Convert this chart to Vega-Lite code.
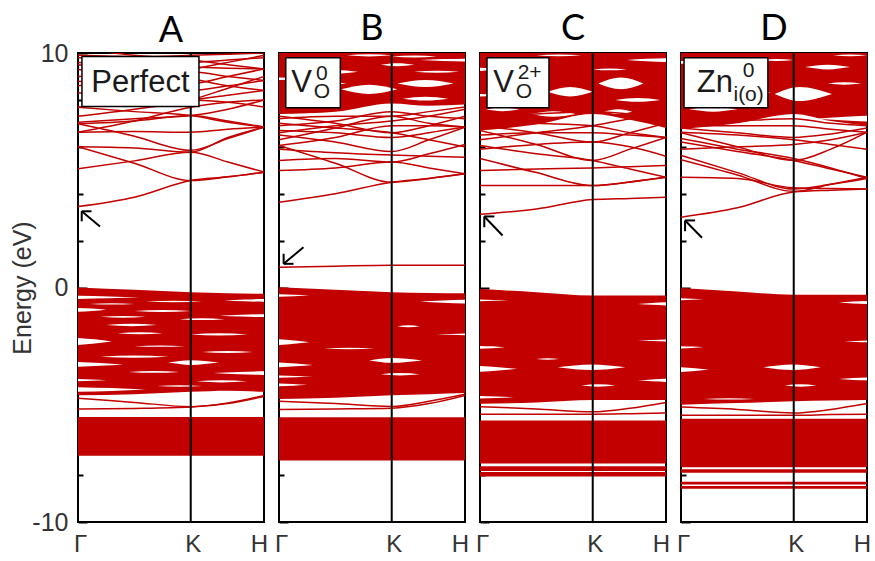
{
"$schema": "https://vega.github.io/schema/vega-lite/v6.json",
"background": "white",
"padding": {"left": 9, "top": 10, "right": 0, "bottom": 0},
"config": {
  "view": {"stroke": "black", "strokeWidth": 2},
  "concat": {"spacing": 4},
  "title": {"fontSize": 36, "font": "Lato", "fontWeight": "normal", "color": "black", "anchor": "middle", "frame": "group", "baseline": "alphabetic"},
  "axis": {"grid": false, "domain": false, "labelFont": "Liberation Sans", "titleFont": "Liberation Sans", "labelColor": "#333", "titleColor": "#333", "labelFontSize": 24, "titleFontSize": 25, "titleFontWeight": "normal", "tickColor": "black", "tickWidth": 2}
},
"datasets": {
"kx": [{"key":"g","x":0},{"key":"m","x":0.5},{"key":"k","x":1},{"key":"n","x":1.33},{"key":"h","x":1.65}],
"fills": [
{"p":"A","g":"Av","x":0,"lo":-4.6,"hi":0.0},{"p":"A","g":"Av","x":0.5,"lo":-4.55,"hi":-0.1},{"p":"A","g":"Av","x":1,"lo":-4.45,"hi":-0.2},{"p":"A","g":"Av","x":1.33,"lo":-4.4,"hi":-0.24},{"p":"A","g":"Av","x":1.65,"lo":-4.45,"hi":-0.27},
{"p":"A","g":"Al","x":0,"lo":-7.18,"hi":-5.52},{"p":"A","g":"Al","x":1.65,"lo":-7.18,"hi":-5.52},
{"p":"B","g":"Bc","x":0,"lo":7.4,"hi":10},{"p":"B","g":"Bc","x":0.5,"lo":7.5,"hi":10},{"p":"B","g":"Bc","x":1,"lo":7.85,"hi":10},{"p":"B","g":"Bc","x":1.33,"lo":7.75,"hi":10},{"p":"B","g":"Bc","x":1.65,"lo":7.8,"hi":10},
{"p":"B","g":"Bv","x":0,"lo":-4.75,"hi":0.01},{"p":"B","g":"Bv","x":0.5,"lo":-4.7,"hi":-0.1},{"p":"B","g":"Bv","x":1,"lo":-4.6,"hi":-0.2},{"p":"B","g":"Bv","x":1.33,"lo":-4.55,"hi":-0.23},{"p":"B","g":"Bv","x":1.65,"lo":-4.5,"hi":-0.25},
{"p":"B","g":"Bl","x":0,"lo":-7.38,"hi":-5.53},{"p":"B","g":"Bl","x":1.65,"lo":-7.38,"hi":-5.53},
{"p":"C","g":"Cc","x":0,"lo":6.7,"hi":10},{"p":"C","g":"Cc","x":0.5,"lo":6.95,"hi":10},{"p":"C","g":"Cc","x":1,"lo":7.4,"hi":10},{"p":"C","g":"Cc","x":1.33,"lo":7.15,"hi":10},{"p":"C","g":"Cc","x":1.65,"lo":6.8,"hi":10},
{"p":"C","g":"Cv","x":0,"lo":-4.96,"hi":-0.06},{"p":"C","g":"Cv","x":0.5,"lo":-4.9,"hi":-0.2},{"p":"C","g":"Cv","x":1,"lo":-4.8,"hi":-0.34},{"p":"C","g":"Cv","x":1.33,"lo":-4.8,"hi":-0.34},{"p":"C","g":"Cv","x":1.65,"lo":-4.8,"hi":-0.34},
{"p":"C","g":"Cl1","x":0,"lo":-7.5,"hi":-5.67},{"p":"C","g":"Cl1","x":1.65,"lo":-7.5,"hi":-5.67},
{"p":"C","g":"Cl2","x":0,"lo":-7.83,"hi":-7.62},{"p":"C","g":"Cl2","x":1.65,"lo":-7.83,"hi":-7.62},
{"p":"C","g":"Cl3","x":0,"lo":-8.06,"hi":-7.87},{"p":"C","g":"Cl3","x":1.65,"lo":-8.06,"hi":-7.87},
{"p":"D","g":"Dc","x":0,"lo":6.75,"hi":10},{"p":"D","g":"Dc","x":0.5,"lo":7.0,"hi":10},{"p":"D","g":"Dc","x":1,"lo":7.4,"hi":10},{"p":"D","g":"Dc","x":1.33,"lo":7.1,"hi":10},{"p":"D","g":"Dc","x":1.65,"lo":6.9,"hi":10},
{"p":"D","g":"Dv","x":0,"lo":-5.0,"hi":-0.02},{"p":"D","g":"Dv","x":0.5,"lo":-4.93,"hi":-0.17},{"p":"D","g":"Dv","x":1,"lo":-4.85,"hi":-0.31},{"p":"D","g":"Dv","x":1.33,"lo":-4.82,"hi":-0.31},{"p":"D","g":"Dv","x":1.65,"lo":-4.8,"hi":-0.31},
{"p":"D","g":"Dl1","x":0,"lo":-7.66,"hi":-5.6},{"p":"D","g":"Dl1","x":1.65,"lo":-7.66,"hi":-5.6},
{"p":"D","g":"Dl2","x":0,"lo":-7.9,"hi":-7.75},{"p":"D","g":"Dl2","x":1.65,"lo":-7.9,"hi":-7.75},
{"p":"D","g":"Dl3","x":0,"lo":-8.4,"hi":-8.28},{"p":"D","g":"Dl3","x":1.65,"lo":-8.4,"hi":-8.28},
{"p":"D","g":"Dl4","x":0,"lo":-8.58,"hi":-8.46},{"p":"D","g":"Dl4","x":1.65,"lo":-8.58,"hi":-8.46}
],
"gaps": [
{"p":"A","g":"a1","x":0,"lo":-0.49,"hi":-0.35},{"p":"A","g":"a1","x":0.275,"lo":-0.46,"hi":-0.38},{"p":"A","g":"a1","x":0.55,"lo":-0.42,"hi":-0.42},
{"p":"A","g":"a2","x":0,"lo":-1.03,"hi":-0.87},{"p":"A","g":"a2","x":0.125,"lo":-1.0,"hi":-0.9},{"p":"A","g":"a2","x":0.25,"lo":-0.95,"hi":-0.95},
{"p":"A","g":"a3","x":0,"lo":-2.45,"hi":-2.15},{"p":"A","g":"a3","x":0.15,"lo":-2.39,"hi":-2.21},{"p":"A","g":"a3","x":0.3,"lo":-2.3,"hi":-2.3},
{"p":"A","g":"a4","x":0,"lo":-3.38,"hi":-3.18},{"p":"A","g":"a4","x":0.2,"lo":-3.34,"hi":-3.22},{"p":"A","g":"a4","x":0.4,"lo":-3.28,"hi":-3.28},
{"p":"A","g":"a5","x":0,"lo":-4.0,"hi":-3.9},{"p":"A","g":"a5","x":0.125,"lo":-3.98,"hi":-3.92},{"p":"A","g":"a5","x":0.25,"lo":-3.95,"hi":-3.95},
{"p":"A","g":"a6","x":0,"lo":-4.45,"hi":-4.25},{"p":"A","g":"a6","x":0.3,"lo":-4.41,"hi":-4.29},{"p":"A","g":"a6","x":0.6,"lo":-4.35,"hi":-4.35},
{"p":"A","g":"a7","x":0.25,"lo":-1.6,"hi":-1.6},{"p":"A","g":"a7","x":0.475,"lo":-1.65,"hi":-1.55},{"p":"A","g":"a7","x":0.7,"lo":-1.6,"hi":-1.6},
{"p":"A","g":"a8","x":0.2,"lo":-2.95,"hi":-2.95},{"p":"A","g":"a8","x":0.5,"lo":-3.0,"hi":-2.9},{"p":"A","g":"a8","x":0.8,"lo":-2.95,"hi":-2.95},
{"p":"A","g":"a9","x":0.8,"lo":-3.2,"hi":-3.2},{"p":"A","g":"a9","x":1.0,"lo":-3.3,"hi":-3.1},{"p":"A","g":"a9","x":1.25,"lo":-3.2,"hi":-3.2},
{"p":"A","g":"a10","x":0.5,"lo":-1.0,"hi":-1.0},{"p":"A","g":"a10","x":0.75,"lo":-1.04,"hi":-0.96},{"p":"A","g":"a10","x":1.0,"lo":-1.0,"hi":-1.0},
{"p":"A","g":"a11","x":1.0,"lo":-2.0,"hi":-2.0},{"p":"A","g":"a11","x":1.25,"lo":-2.05,"hi":-1.95},{"p":"A","g":"a11","x":1.5,"lo":-2.0,"hi":-2.0},
{"p":"A","g":"a12","x":1.25,"lo":-1.2,"hi":-1.2},{"p":"A","g":"a12","x":1.45,"lo":-1.24,"hi":-1.16},{"p":"A","g":"a12","x":1.65,"lo":-1.26,"hi":-1.14},
{"p":"A","g":"a13","x":1.2,"lo":-3.65,"hi":-3.65},{"p":"A","g":"a13","x":1.425,"lo":-3.7,"hi":-3.6},{"p":"A","g":"a13","x":1.65,"lo":-3.73,"hi":-3.57},
{"p":"A","g":"a14","x":1.3,"lo":-0.55,"hi":-0.55},{"p":"A","g":"a14","x":1.475,"lo":-0.59,"hi":-0.51},{"p":"A","g":"a14","x":1.65,"lo":-0.61,"hi":-0.49},
{"p":"A","g":"a15","x":0.1,"lo":-0.7,"hi":-0.7},{"p":"A","g":"a15","x":0.3,"lo":-0.73,"hi":-0.67},{"p":"A","g":"a15","x":0.5,"lo":-0.7,"hi":-0.7},
{"p":"A","g":"a16","x":0.6,"lo":-0.6,"hi":-0.6},{"p":"A","g":"a16","x":0.85,"lo":-0.63,"hi":-0.57},{"p":"A","g":"a16","x":1.1,"lo":-0.6,"hi":-0.6},
{"p":"A","g":"a17","x":0.2,"lo":-1.25,"hi":-1.25},{"p":"A","g":"a17","x":0.4,"lo":-1.29,"hi":-1.21},{"p":"A","g":"a17","x":0.6,"lo":-1.25,"hi":-1.25},
{"p":"A","g":"a18","x":0.9,"lo":-1.35,"hi":-1.35},{"p":"A","g":"a18","x":1.1,"lo":-1.39,"hi":-1.31},{"p":"A","g":"a18","x":1.3,"lo":-1.35,"hi":-1.35},
{"p":"A","g":"a19","x":0.35,"lo":-1.95,"hi":-1.95},{"p":"A","g":"a19","x":0.55,"lo":-1.99,"hi":-1.91},{"p":"A","g":"a19","x":0.75,"lo":-1.95,"hi":-1.95},
{"p":"A","g":"a20","x":0.5,"lo":-2.5,"hi":-2.5},{"p":"A","g":"a20","x":0.725,"lo":-2.53,"hi":-2.47},{"p":"A","g":"a20","x":0.95,"lo":-2.5,"hi":-2.5},
{"p":"A","g":"a21","x":1.1,"lo":-2.75,"hi":-2.75},{"p":"A","g":"a21","x":1.325,"lo":-2.79,"hi":-2.71},{"p":"A","g":"a21","x":1.55,"lo":-2.75,"hi":-2.75},
{"p":"A","g":"a22","x":0.45,"lo":-3.6,"hi":-3.6},{"p":"A","g":"a22","x":0.675,"lo":-3.64,"hi":-3.56},{"p":"A","g":"a22","x":0.9,"lo":-3.6,"hi":-3.6},
{"p":"A","g":"a23","x":1.05,"lo":-4.0,"hi":-4.0},{"p":"A","g":"a23","x":1.275,"lo":-4.05,"hi":-3.95},{"p":"A","g":"a23","x":1.5,"lo":-4.0,"hi":-4.0},
{"p":"A","g":"a24","x":0.7,"lo":-4.2,"hi":-4.2},{"p":"A","g":"a24","x":0.9,"lo":-4.23,"hi":-4.17},{"p":"A","g":"a24","x":1.1,"lo":-4.2,"hi":-4.2},
{"p":"B","g":"b1","x":0.55,"lo":8.45,"hi":8.45},{"p":"B","g":"b1","x":0.8,"lo":8.25,"hi":8.65},{"p":"B","g":"b1","x":1.05,"lo":8.45,"hi":8.45},
{"p":"B","g":"b2","x":1.05,"lo":8.7,"hi":8.7},{"p":"B","g":"b2","x":1.3,"lo":8.55,"hi":8.85},{"p":"B","g":"b2","x":1.55,"lo":8.7,"hi":8.7},
{"p":"B","g":"b3","x":0.3,"lo":9.2,"hi":9.2},{"p":"B","g":"b3","x":0.5,"lo":9.12,"hi":9.28},{"p":"B","g":"b3","x":0.7,"lo":9.2,"hi":9.2},
{"p":"B","g":"b4","x":0.9,"lo":9.5,"hi":9.5},{"p":"B","g":"b4","x":1.05,"lo":9.44,"hi":9.56},{"p":"B","g":"b4","x":1.2,"lo":9.5,"hi":9.5},
{"p":"B","g":"b5","x":0.05,"lo":7.95,"hi":7.95},{"p":"B","g":"b5","x":0.25,"lo":7.87,"hi":8.03},{"p":"B","g":"b5","x":0.45,"lo":7.95,"hi":7.95},
{"p":"B","g":"b6","x":1.25,"lo":9.7,"hi":9.7},{"p":"B","g":"b6","x":1.45,"lo":9.66,"hi":9.74},{"p":"B","g":"b6","x":1.65,"lo":9.64,"hi":9.76},
{"p":"B","g":"b7","x":0.6,"lo":9.9,"hi":9.9},{"p":"B","g":"b7","x":0.8,"lo":9.85,"hi":9.95},{"p":"B","g":"b7","x":1.0,"lo":9.9,"hi":9.9},
{"p":"B","g":"b8","x":1.1,"lo":8.05,"hi":8.05},{"p":"B","g":"b8","x":1.3,"lo":7.97,"hi":8.13},{"p":"B","g":"b8","x":1.5,"lo":8.05,"hi":8.05},
{"p":"B","g":"b9","x":0,"lo":-0.39,"hi":-0.29},{"p":"B","g":"b9","x":0.135,"lo":-0.37,"hi":-0.31},{"p":"B","g":"b9","x":0.27,"lo":-0.34,"hi":-0.34},
{"p":"B","g":"b10","x":0,"lo":-2.45,"hi":-2.21},{"p":"B","g":"b10","x":0.135,"lo":-2.4,"hi":-2.26},{"p":"B","g":"b10","x":0.27,"lo":-2.33,"hi":-2.33},
{"p":"B","g":"b11","x":0,"lo":-3.4,"hi":-3.2},{"p":"B","g":"b11","x":0.15,"lo":-3.36,"hi":-3.24},{"p":"B","g":"b11","x":0.3,"lo":-3.3,"hi":-3.3},
{"p":"B","g":"b12","x":0,"lo":-3.85,"hi":-3.75},{"p":"B","g":"b12","x":0.15,"lo":-3.83,"hi":-3.77},{"p":"B","g":"b12","x":0.3,"lo":-3.8,"hi":-3.8},
{"p":"B","g":"b13","x":0,"lo":-4.21,"hi":-4.09},{"p":"B","g":"b13","x":0.125,"lo":-4.19,"hi":-4.11},{"p":"B","g":"b13","x":0.25,"lo":-4.15,"hi":-4.15},
{"p":"B","g":"b14","x":0.8,"lo":-3.11,"hi":-3.11},{"p":"B","g":"b14","x":1.0,"lo":-3.21,"hi":-3.01},{"p":"B","g":"b14","x":1.27,"lo":-3.11,"hi":-3.11},
{"p":"B","g":"b15","x":0.4,"lo":-2.6,"hi":-2.6},{"p":"B","g":"b15","x":0.625,"lo":-2.63,"hi":-2.57},{"p":"B","g":"b15","x":0.85,"lo":-2.6,"hi":-2.6},
{"p":"B","g":"b16","x":0.9,"lo":-3.7,"hi":-3.7},{"p":"B","g":"b16","x":1.075,"lo":-3.75,"hi":-3.65},{"p":"B","g":"b16","x":1.25,"lo":-3.7,"hi":-3.7},
{"p":"B","g":"b17","x":1.05,"lo":-1.65,"hi":-1.65},{"p":"B","g":"b17","x":1.15,"lo":-1.69,"hi":-1.61},{"p":"B","g":"b17","x":1.25,"lo":-1.65,"hi":-1.65},
{"p":"B","g":"b18","x":1.25,"lo":-0.6,"hi":-0.6},{"p":"B","g":"b18","x":1.45,"lo":-0.65,"hi":-0.55},{"p":"B","g":"b18","x":1.65,"lo":-0.68,"hi":-0.52},
{"p":"B","g":"b19","x":1.4,"lo":-2.0,"hi":-2.0},{"p":"B","g":"b19","x":1.525,"lo":-2.02,"hi":-1.98},{"p":"B","g":"b19","x":1.65,"lo":-2.04,"hi":-1.96},
{"p":"B","g":"b20","x":0.1,"lo":9.5,"hi":9.5},{"p":"B","g":"b20","x":0.3,"lo":9.46,"hi":9.54},{"p":"B","g":"b20","x":0.5,"lo":9.5,"hi":9.5},
{"p":"B","g":"b21","x":1.2,"lo":9.2,"hi":9.2},{"p":"B","g":"b21","x":1.4,"lo":9.16,"hi":9.24},{"p":"B","g":"b21","x":1.6,"lo":9.2,"hi":9.2},
{"p":"B","g":"b22","x":0.3,"lo":8.7,"hi":8.7},{"p":"B","g":"b22","x":0.45,"lo":8.65,"hi":8.75},{"p":"B","g":"b22","x":0.6,"lo":8.7,"hi":8.7},
{"p":"B","g":"b23","x":0,"lo":8.85,"hi":8.95},{"p":"B","g":"b23","x":0.15,"lo":8.87,"hi":8.93},{"p":"B","g":"b23","x":0.3,"lo":8.9,"hi":8.9},
{"p":"B","g":"b24","x":1.0,"lo":9.85,"hi":9.85},{"p":"B","g":"b24","x":1.2,"lo":9.81,"hi":9.89},{"p":"B","g":"b24","x":1.4,"lo":9.85,"hi":9.85},
{"p":"C","g":"c1","x":1.05,"lo":8.7,"hi":8.7},{"p":"C","g":"c1","x":1.25,"lo":8.45,"hi":8.95},{"p":"C","g":"c1","x":1.45,"lo":8.7,"hi":8.7},
{"p":"C","g":"c2","x":0.6,"lo":8.35,"hi":8.35},{"p":"C","g":"c2","x":0.8,"lo":8.15,"hi":8.55},{"p":"C","g":"c2","x":1.0,"lo":8.35,"hi":8.35},
{"p":"C","g":"c3","x":0.45,"lo":7.4,"hi":7.4},{"p":"C","g":"c3","x":0.65,"lo":7.28,"hi":7.52},{"p":"C","g":"c3","x":0.85,"lo":7.4,"hi":7.4},
{"p":"C","g":"c4","x":1.1,"lo":7.5,"hi":7.5},{"p":"C","g":"c4","x":1.225,"lo":7.4,"hi":7.6},{"p":"C","g":"c4","x":1.35,"lo":7.5,"hi":7.5},
{"p":"C","g":"c5","x":0,"lo":9.23,"hi":9.37},{"p":"C","g":"c5","x":0.1,"lo":9.26,"hi":9.34},{"p":"C","g":"c5","x":0.2,"lo":9.3,"hi":9.3},
{"p":"C","g":"c6","x":1.3,"lo":9.7,"hi":9.7},{"p":"C","g":"c6","x":1.475,"lo":9.65,"hi":9.75},{"p":"C","g":"c6","x":1.65,"lo":9.62,"hi":9.78},
{"p":"C","g":"c7","x":1.2,"lo":8.0,"hi":8.0},{"p":"C","g":"c7","x":1.4,"lo":7.92,"hi":8.08},{"p":"C","g":"c7","x":1.6,"lo":8.0,"hi":8.0},
{"p":"C","g":"c8","x":0.05,"lo":7.6,"hi":7.6},{"p":"C","g":"c8","x":0.2,"lo":7.52,"hi":7.68},{"p":"C","g":"c8","x":0.35,"lo":7.6,"hi":7.6},
{"p":"C","g":"c9","x":0.2,"lo":9.6,"hi":9.6},{"p":"C","g":"c9","x":0.375,"lo":9.54,"hi":9.66},{"p":"C","g":"c9","x":0.55,"lo":9.6,"hi":9.6},
{"p":"C","g":"c10","x":0,"lo":-0.59,"hi":-0.51},{"p":"C","g":"c10","x":0.125,"lo":-0.57,"hi":-0.53},{"p":"C","g":"c10","x":0.25,"lo":-0.55,"hi":-0.55},
{"p":"C","g":"c11","x":0,"lo":-2.61,"hi":-2.49},{"p":"C","g":"c11","x":0.11,"lo":-2.59,"hi":-2.51},{"p":"C","g":"c11","x":0.22,"lo":-2.55,"hi":-2.55},
{"p":"C","g":"c12","x":0,"lo":-3.59,"hi":-3.35},{"p":"C","g":"c12","x":0.165,"lo":-3.54,"hi":-3.4},{"p":"C","g":"c12","x":0.33,"lo":-3.47,"hi":-3.47},
{"p":"C","g":"c13","x":0,"lo":-4.73,"hi":-4.63},{"p":"C","g":"c13","x":0.15,"lo":-4.71,"hi":-4.65},{"p":"C","g":"c13","x":0.3,"lo":-4.68,"hi":-4.68},
{"p":"C","g":"c14","x":0.69,"lo":-3.4,"hi":-3.4},{"p":"C","g":"c14","x":0.99,"lo":-3.52,"hi":-3.28},{"p":"C","g":"c14","x":1.29,"lo":-3.4,"hi":-3.4},
{"p":"C","g":"c15","x":0.9,"lo":-4.18,"hi":-4.18},{"p":"C","g":"c15","x":1.05,"lo":-4.23,"hi":-4.13},{"p":"C","g":"c15","x":1.2,"lo":-4.18,"hi":-4.18},
{"p":"C","g":"c16","x":0.5,"lo":-3.05,"hi":-3.05},{"p":"C","g":"c16","x":0.6,"lo":-3.08,"hi":-3.02},{"p":"C","g":"c16","x":0.7,"lo":-3.05,"hi":-3.05},
{"p":"C","g":"c17","x":1.4,"lo":-0.7,"hi":-0.7},{"p":"C","g":"c17","x":1.525,"lo":-0.74,"hi":-0.66},{"p":"C","g":"c17","x":1.65,"lo":-0.77,"hi":-0.63},
{"p":"C","g":"c18","x":1.4,"lo":-2.26,"hi":-2.26},{"p":"C","g":"c18","x":1.525,"lo":-2.28,"hi":-2.24},{"p":"C","g":"c18","x":1.65,"lo":-2.3,"hi":-2.22},
{"p":"C","g":"c19","x":1.4,"lo":-3.96,"hi":-3.96},{"p":"C","g":"c19","x":1.525,"lo":-4.0,"hi":-3.92},{"p":"C","g":"c19","x":1.65,"lo":-4.03,"hi":-3.89},
{"p":"C","g":"c20","x":0.1,"lo":8.6,"hi":8.6},{"p":"C","g":"c20","x":0.25,"lo":8.55,"hi":8.65},{"p":"C","g":"c20","x":0.4,"lo":8.6,"hi":8.6},
{"p":"C","g":"c21","x":0.5,"lo":9.9,"hi":9.9},{"p":"C","g":"c21","x":0.7,"lo":9.86,"hi":9.94},{"p":"C","g":"c21","x":0.9,"lo":9.9,"hi":9.9},
{"p":"C","g":"c22","x":1.0,"lo":9.3,"hi":9.3},{"p":"C","g":"c22","x":1.15,"lo":9.26,"hi":9.34},{"p":"C","g":"c22","x":1.3,"lo":9.3,"hi":9.3},
{"p":"C","g":"c23","x":0,"lo":8.15,"hi":8.25},{"p":"C","g":"c23","x":0.125,"lo":8.17,"hi":8.23},{"p":"C","g":"c23","x":0.25,"lo":8.2,"hi":8.2},
{"p":"D","g":"d1","x":0.83,"lo":8.25,"hi":8.25},{"p":"D","g":"d1","x":1.05,"lo":7.95,"hi":8.55},{"p":"D","g":"d1","x":1.34,"lo":8.25,"hi":8.25},
{"p":"D","g":"d2","x":0.07,"lo":7.6,"hi":7.6},{"p":"D","g":"d2","x":0.285,"lo":7.5,"hi":7.7},{"p":"D","g":"d2","x":0.5,"lo":7.6,"hi":7.6},
{"p":"D","g":"d3","x":1.1,"lo":9.4,"hi":9.4},{"p":"D","g":"d3","x":1.3,"lo":9.3,"hi":9.5},{"p":"D","g":"d3","x":1.5,"lo":9.4,"hi":9.4},
{"p":"D","g":"d4","x":1.2,"lo":7.2,"hi":7.2},{"p":"D","g":"d4","x":1.425,"lo":7.13,"hi":7.27},{"p":"D","g":"d4","x":1.65,"lo":7.08,"hi":7.32},
{"p":"D","g":"d5","x":0.3,"lo":9.0,"hi":9.0},{"p":"D","g":"d5","x":0.45,"lo":8.93,"hi":9.07},{"p":"D","g":"d5","x":0.6,"lo":9.0,"hi":9.0},
{"p":"D","g":"d6","x":0,"lo":9.54,"hi":9.66},{"p":"D","g":"d6","x":0.1,"lo":9.56,"hi":9.64},{"p":"D","g":"d6","x":0.2,"lo":9.6,"hi":9.6},
{"p":"D","g":"d7","x":0,"lo":-2.6,"hi":-2.5},{"p":"D","g":"d7","x":0.1,"lo":-2.58,"hi":-2.52},{"p":"D","g":"d7","x":0.2,"lo":-2.55,"hi":-2.55},
{"p":"D","g":"d8","x":0,"lo":-3.6,"hi":-3.4},{"p":"D","g":"d8","x":0.125,"lo":-3.56,"hi":-3.44},{"p":"D","g":"d8","x":0.25,"lo":-3.5,"hi":-3.5},
{"p":"D","g":"d9","x":0,"lo":-0.54,"hi":-0.46},{"p":"D","g":"d9","x":0.1,"lo":-0.52,"hi":-0.48},{"p":"D","g":"d9","x":0.2,"lo":-0.5,"hi":-0.5},
{"p":"D","g":"d10","x":0.73,"lo":-3.4,"hi":-3.4},{"p":"D","g":"d10","x":0.99,"lo":-3.52,"hi":-3.28},{"p":"D","g":"d10","x":1.24,"lo":-3.4,"hi":-3.4},
{"p":"D","g":"d11","x":0.92,"lo":-4.18,"hi":-4.18},{"p":"D","g":"d11","x":1.06,"lo":-4.23,"hi":-4.13},{"p":"D","g":"d11","x":1.2,"lo":-4.18,"hi":-4.18},
{"p":"D","g":"d12","x":0.2,"lo":-4.75,"hi":-4.75},{"p":"D","g":"d12","x":0.425,"lo":-4.78,"hi":-4.72},{"p":"D","g":"d12","x":0.65,"lo":-4.75,"hi":-4.75},
{"p":"D","g":"d13","x":1.4,"lo":-0.64,"hi":-0.64},{"p":"D","g":"d13","x":1.525,"lo":-0.68,"hi":-0.6},{"p":"D","g":"d13","x":1.65,"lo":-0.7,"hi":-0.58},
{"p":"D","g":"d14","x":1.4,"lo":-3.9,"hi":-3.9},{"p":"D","g":"d14","x":1.525,"lo":-3.94,"hi":-3.86},{"p":"D","g":"d14","x":1.65,"lo":-3.96,"hi":-3.84},
{"p":"D","g":"d15","x":1.45,"lo":-2.3,"hi":-2.3},{"p":"D","g":"d15","x":1.55,"lo":-2.32,"hi":-2.28},{"p":"D","g":"d15","x":1.65,"lo":-2.34,"hi":-2.26},
{"p":"D","g":"d16","x":0.1,"lo":8.6,"hi":8.6},{"p":"D","g":"d16","x":0.275,"lo":8.55,"hi":8.65},{"p":"D","g":"d16","x":0.45,"lo":8.6,"hi":8.6},
{"p":"D","g":"d17","x":0.5,"lo":8.3,"hi":8.3},{"p":"D","g":"d17","x":0.65,"lo":8.24,"hi":8.36},{"p":"D","g":"d17","x":0.8,"lo":8.3,"hi":8.3},
{"p":"D","g":"d18","x":1.3,"lo":8.7,"hi":8.7},{"p":"D","g":"d18","x":1.45,"lo":8.65,"hi":8.75},{"p":"D","g":"d18","x":1.6,"lo":8.7,"hi":8.7},
{"p":"D","g":"d19","x":0.7,"lo":9.7,"hi":9.7},{"p":"D","g":"d19","x":0.85,"lo":9.66,"hi":9.74},{"p":"D","g":"d19","x":1.0,"lo":9.7,"hi":9.7},
{"p":"D","g":"d20","x":1.35,"lo":9.9,"hi":9.9},{"p":"D","g":"d20","x":1.5,"lo":9.86,"hi":9.94},{"p":"D","g":"d20","x":1.65,"lo":9.9,"hi":9.9}
],
"bands": [
{"p":"A","b":1,"g":3.45,"m":3.85,"k":4.56,"n":4.72,"h":4.92},
{"p":"A","b":2,"g":6.0,"m":5.3,"k":4.56,"n":4.72,"h":4.92},
{"p":"A","b":3,"g":5.06,"m":5.4,"k":5.77,"n":5.35,"h":4.92},
{"p":"A","b":4,"g":6.0,"m":5.95,"k":5.77,"n":6.4,"h":6.84},
{"p":"A","b":5,"g":6.98,"m":6.45,"k":5.85,"n":6.35,"h":6.84},
{"p":"A","b":6,"g":6.62,"m":6.65,"k":6.62,"n":6.75,"h":6.84},
{"p":"A","b":7,"g":6.98,"m":7.1,"k":7.33,"n":7.1,"h":6.84},
{"p":"A","b":8,"g":7.05,"m":7.2,"k":7.33,"n":7.6,"h":8.0},
{"p":"A","b":9,"g":6.62,"m":7.1,"k":7.69,"n":7.9,"h":8.0},
{"p":"A","b":10,"g":7.69,"m":7.5,"k":7.33,"n":7.05,"h":6.84},
{"p":"A","b":11,"g":7.7,"m":7.9,"k":8.0,"n":8.2,"h":8.4},
{"p":"A","b":12,"g":8.3,"m":8.1,"k":8.0,"n":7.9,"h":7.7},
{"p":"A","b":13,"g":8.8,"m":8.6,"k":8.4,"n":8.6,"h":8.83},
{"p":"A","b":14,"g":9.0,"m":9.1,"k":9.2,"n":9.0,"h":8.83},
{"p":"A","b":15,"g":9.3,"m":9.0,"k":8.7,"n":9.0,"h":9.32},
{"p":"A","b":16,"g":9.6,"m":9.5,"k":9.4,"n":9.35,"h":9.32},
{"p":"A","b":17,"g":9.8,"m":9.7,"k":9.6,"n":9.7,"h":9.8},
{"p":"A","b":18,"g":9.9,"m":9.85,"k":9.9,"n":9.95,"h":10.0},
{"p":"A","b":19,"g":8.6,"m":8.9,"k":9.3,"n":9.6,"h":9.9},
{"p":"A","b":20,"g":9.5,"m":9.2,"k":8.9,"n":8.6,"h":8.4},
{"p":"A","b":21,"g":10.2,"m":9.9,"k":9.7,"n":9.5,"h":9.32},
{"p":"A","b":22,"g":7.3,"m":7.6,"k":8.0,"n":8.5,"h":9.0},
{"p":"A","b":23,"g":-4.72,"m":-4.9,"k":-5.08,"n":-4.92,"h":-4.6},
{"p":"A","b":24,"g":-5.18,"m":-5.16,"k":-5.1,"n":-4.95,"h":-4.65},
{"p":"B","b":1,"g":0.86,"m":0.91,"k":0.95,"n":0.95,"h":0.95},
{"p":"B","b":2,"g":3.64,"m":4.0,"k":4.49,"n":4.65,"h":4.85},
{"p":"B","b":3,"g":6.06,"m":5.3,"k":4.49,"n":4.65,"h":4.85},
{"p":"B","b":4,"g":4.99,"m":5.1,"k":5.35,"n":5.1,"h":4.85},
{"p":"B","b":5,"g":5.42,"m":5.5,"k":5.35,"n":5.7,"h":6.1},
{"p":"B","b":6,"g":5.9,"m":5.75,"k":5.65,"n":5.6,"h":5.55},
{"p":"B","b":7,"g":6.5,"m":6.2,"k":5.8,"n":6.3,"h":6.84},
{"p":"B","b":8,"g":6.7,"m":6.6,"k":6.4,"n":6.6,"h":6.84},
{"p":"B","b":9,"g":6.06,"m":6.4,"k":6.9,"n":6.9,"h":6.84},
{"p":"B","b":10,"g":6.3,"m":6.8,"k":7.3,"n":7.0,"h":6.84},
{"p":"B","b":11,"g":7.0,"m":6.8,"k":6.6,"n":6.3,"h":6.0},
{"p":"B","b":12,"g":7.2,"m":7.3,"k":7.3,"n":7.5,"h":7.7},
{"p":"B","b":13,"g":6.9,"m":7.1,"k":7.5,"n":7.3,"h":7.2},
{"p":"B","b":14,"g":7.3,"m":7.0,"k":6.6,"n":6.9,"h":7.3},
{"p":"B","b":15,"g":6.6,"m":6.9,"k":7.1,"n":7.3,"h":7.6},
{"p":"B","b":16,"g":-4.85,"m":-4.95,"k":-5.07,"n":-4.85,"h":-4.55},
{"p":"B","b":17,"g":-5.2,"m":-5.18,"k":-5.15,"n":-4.95,"h":-4.6},
{"p":"C","b":1,"g":3.12,"m":3.35,"k":3.75,"n":3.8,"h":3.85},
{"p":"C","b":2,"g":4.35,"m":4.35,"k":4.35,"n":4.5,"h":4.7},
{"p":"C","b":3,"g":5.5,"m":4.9,"k":4.35,"n":4.5,"h":4.7},
{"p":"C","b":4,"g":4.99,"m":5.05,"k":5.1,"n":5.15,"h":5.2},
{"p":"C","b":5,"g":6.06,"m":5.7,"k":5.42,"n":5.05,"h":4.7},
{"p":"C","b":6,"g":6.7,"m":6.1,"k":5.42,"n":5.9,"h":6.4},
{"p":"C","b":7,"g":5.9,"m":6.1,"k":6.2,"n":6.0,"h":5.6},
{"p":"C","b":8,"g":6.5,"m":6.6,"k":6.6,"n":6.5,"h":6.4},
{"p":"C","b":9,"g":6.9,"m":6.6,"k":6.2,"n":6.6,"h":7.0},
{"p":"C","b":10,"g":6.3,"m":6.6,"k":6.9,"n":7.2,"h":7.5},
{"p":"C","b":11,"g":7.1,"m":7.0,"k":6.9,"n":6.6,"h":6.4},
{"p":"C","b":12,"g":7.3,"m":7.4,"k":7.5,"n":7.4,"h":7.2},
{"p":"C","b":13,"g":-5.08,"m":-5.18,"k":-5.3,"n":-5.15,"h":-4.9},
{"p":"C","b":14,"g":-5.4,"m":-5.4,"k":-5.4,"n":-5.38,"h":-5.35},
{"p":"D","b":1,"g":3.0,"m":3.4,"k":4.07,"n":4.15,"h":4.2},
{"p":"D","b":2,"g":4.7,"m":4.65,"k":4.25,"n":4.22,"h":4.2},
{"p":"D","b":3,"g":5.63,"m":4.9,"k":4.2,"n":4.4,"h":4.65},
{"p":"D","b":4,"g":5.45,"m":4.8,"k":4.1,"n":4.4,"h":4.7},
{"p":"D","b":5,"g":6.2,"m":5.8,"k":5.42,"n":5.05,"h":4.7},
{"p":"D","b":6,"g":6.35,"m":5.9,"k":5.5,"n":5.1,"h":4.65},
{"p":"D","b":7,"g":6.6,"m":6.0,"k":5.42,"n":5.9,"h":6.62},
{"p":"D","b":8,"g":5.9,"m":6.0,"k":6.1,"n":6.3,"h":6.62},
{"p":"D","b":9,"g":6.62,"m":6.5,"k":6.3,"n":6.1,"h":5.9},
{"p":"D","b":10,"g":6.9,"m":6.9,"k":6.9,"n":6.75,"h":6.62},
{"p":"D","b":11,"g":6.8,"m":6.6,"k":6.4,"n":6.55,"h":6.8},
{"p":"D","b":12,"g":7.0,"m":7.1,"k":7.2,"n":7.0,"h":6.9},
{"p":"D","b":13,"g":-5.1,"m":-5.2,"k":-5.35,"n":-5.2,"h":-4.95},
{"p":"D","b":14,"g":-5.45,"m":-5.45,"k":-5.45,"n":-5.42,"h":-5.4}
],
"arrows": [
{"p":"A","a":"1","x":0.033,"e":3.25},{"p":"A","a":"1","x":0.195,"e":2.6},
{"p":"A","a":"2","x":0.033,"e":3.25},{"p":"A","a":"2","x":0.12,"e":3.25},
{"p":"A","a":"3","x":0.033,"e":3.25},{"p":"A","a":"3","x":0.033,"e":2.82},
{"p":"B","a":"1","x":0.041,"e":1.01},{"p":"B","a":"1","x":0.217,"e":1.72},
{"p":"B","a":"2","x":0.041,"e":1.01},{"p":"B","a":"2","x":0.129,"e":1.01},
{"p":"B","a":"3","x":0.041,"e":1.01},{"p":"B","a":"3","x":0.041,"e":1.44},
{"p":"C","a":"1","x":0.038,"e":3.03},{"p":"C","a":"1","x":0.2,"e":2.22},
{"p":"C","a":"2","x":0.038,"e":3.03},{"p":"C","a":"2","x":0.127,"e":3.03},
{"p":"C","a":"3","x":0.038,"e":3.03},{"p":"C","a":"3","x":0.038,"e":2.57},
{"p":"D","a":"1","x":0.036,"e":2.86},{"p":"D","a":"1","x":0.186,"e":2.12},
{"p":"D","a":"2","x":0.036,"e":2.86},{"p":"D","a":"2","x":0.125,"e":2.86},
{"p":"D","a":"3","x":0.036,"e":2.86},{"p":"D","a":"3","x":0.036,"e":2.4}
],
"boxes": [
{"p":"A","x1":0.035,"x2":1.073,"e1":7.72,"e2":9.85},
{"p":"B","x1":0.06,"x2":0.544,"e1":7.67,"e2":9.8},
{"p":"C","x1":0.062,"x2":0.612,"e1":7.67,"e2":9.8},
{"p":"D","x1":0.027,"x2":0.771,"e1":7.67,"e2":9.8}
],
"texts": [
{"p":"A","s":"m","x":0.554,"e":8.33,"t":"Perfect"},
{"p":"B","s":"m","x":0.2,"e":8.32,"t":"V"},
{"p":"B","s":"s","x":0.38,"e":8.83,"t":"0"},
{"p":"B","s":"s","x":0.38,"e":8.06,"t":"O"},
{"p":"C","s":"m","x":0.21,"e":8.32,"t":"V"},
{"p":"C","s":"s","x":0.44,"e":8.91,"t":"2+"},
{"p":"C","s":"s","x":0.39,"e":8.06,"t":"O"},
{"p":"D","s":"m","x":0.3,"e":8.32,"t":"Zn"},
{"p":"D","s":"s","x":0.6,"e":8.97,"t":"0"},
{"p":"D","s":"s","x":0.6,"e":7.97,"t":"i(o)"}
]
},
"hconcat": [
{"width": 186, "height": 469, "title": {"text": "A", "offset": -9},
 "layer": [
  {"data": {"name": "fills"}, "transform": [{"filter": "datum.p === 'A'"}],
   "mark": {"type": "area", "color": "#c20000", "interpolate": "monotone", "clip": true},
   "encoding": {
    "x": {"field": "x", "type": "quantitative", "scale": {"domain": [0, 1.65], "nice": false, "zero": false},
          "axis": {"title": null, "values": [0, 1, 1.65], "labelExpr": "datum.value === 0 ? 'Γ' : (datum.value === 1 ? 'K' : 'H')", "ticks": false, "labelPadding": 10, "labelFlush": false, "labelOverlap": false, "labelBound": false, "labelOffset": {"condition": {"test": "datum.value > 1.5", "value": -5}, "value": 2}}},
    "y": {"field": "hi", "type": "quantitative", "scale": {"domain": [-10, 10], "nice": false, "zero": false},
          "axis": {"title": "Energy (eV)", "values": [-10,-9,-8,-7,-6,-5,-4,-3,-2,-1,0,1,2,3,4,5,6,7,8,9,10], "labelExpr": "datum.value % 5 === 0 ? '' + datum.value : ''", "labelFontSize": 25, "tickSize": {"condition": {"test": "datum.value % 5 === 0", "value": -9}, "value": -5}, "labelPadding": 19, "titlePadding": -4, "labelOverlap": false}},
    "y2": {"field": "lo"},
    "detail": {"field": "g"}}},
  {"data": {"name": "gaps"}, "transform": [{"filter": "datum.p === 'A'"}],
   "mark": {"type": "area", "color": "white", "interpolate": "monotone", "clip": true},
   "encoding": {"x": {"field": "x", "type": "quantitative"}, "y": {"field": "hi", "type": "quantitative"}, "y2": {"field": "lo"}, "detail": {"field": "g"}}},
  {"data": {"name": "bands"}, "transform": [{"filter": "datum.p === 'A'"}, {"fold": ["g","m","k","n","h"], "as": ["key","e"]}, {"lookup": "key", "from": {"data": {"name": "kx"}, "key": "key", "fields": ["x"]}}],
   "mark": {"type": "line", "color": "#c20000", "strokeWidth": 1.5, "interpolate": "monotone", "clip": true},
   "encoding": {"x": {"field": "x", "type": "quantitative"}, "y": {"field": "e", "type": "quantitative"}, "detail": {"field": "b"}}},
  {"data": {"values": [{"kx": 1}]}, "mark": {"type": "rule", "color": "black", "strokeWidth": 2},
   "encoding": {"x": {"field": "kx", "type": "quantitative"}}},
  {"data": {"name": "arrows"}, "transform": [{"filter": "datum.p === 'A'"}],
   "mark": {"type": "line", "color": "black", "strokeWidth": 2},
   "encoding": {"x": {"field": "x", "type": "quantitative"}, "y": {"field": "e", "type": "quantitative"}, "detail": {"field": "a"}}},
  {"data": {"name": "boxes"}, "transform": [{"filter": "datum.p === 'A'"}],
   "mark": {"type": "rect", "fill": "white", "stroke": "black", "strokeWidth": 1.5},
   "encoding": {"x": {"field": "x1", "type": "quantitative"}, "x2": {"field": "x2"}, "y": {"field": "e2", "type": "quantitative"}, "y2": {"field": "e1"}}},
  {"data": {"name": "texts"}, "transform": [{"filter": "datum.p === 'A' && datum.s === 'm'"}],
   "mark": {"type": "text", "font": "Liberation Sans", "fontSize": 31, "color": "#1a1a1a", "align": "center", "baseline": "alphabetic"},
   "encoding": {"x": {"field": "x", "type": "quantitative"}, "y": {"field": "e", "type": "quantitative"}, "text": {"field": "t"}}}
 ]},
{"width": 186, "height": 469, "title": {"text": "B", "offset": 4},
 "layer": [
  {"data": {"name": "fills"}, "transform": [{"filter": "datum.p === 'B'"}],
   "mark": {"type": "area", "color": "#c20000", "interpolate": "monotone", "clip": true},
   "encoding": {
    "x": {"field": "x", "type": "quantitative", "scale": {"domain": [0, 1.65], "nice": false, "zero": false},
          "axis": {"title": null, "values": [0, 1, 1.65], "labelExpr": "datum.value === 0 ? 'Γ' : (datum.value === 1 ? 'K' : 'H')", "ticks": false, "labelPadding": 10, "labelFlush": false, "labelOverlap": false, "labelBound": false, "labelOffset": {"condition": {"test": "datum.value > 1.5", "value": -5}, "value": 2}}},
    "y": {"field": "hi", "type": "quantitative", "scale": {"domain": [-10, 10], "nice": false, "zero": false},
          "axis": {"title": null, "labels": false, "values": [-10,-9,-8,-7,-6,-5,-4,-3,-2,-1,0,1,2,3,4,5,6,7,8,9,10], "tickSize": {"condition": {"test": "datum.value % 5 === 0", "value": -9}, "value": -5}}},
    "y2": {"field": "lo"},
    "detail": {"field": "g"}}},
  {"data": {"name": "gaps"}, "transform": [{"filter": "datum.p === 'B'"}],
   "mark": {"type": "area", "color": "white", "interpolate": "monotone", "clip": true},
   "encoding": {"x": {"field": "x", "type": "quantitative"}, "y": {"field": "hi", "type": "quantitative"}, "y2": {"field": "lo"}, "detail": {"field": "g"}}},
  {"data": {"name": "bands"}, "transform": [{"filter": "datum.p === 'B'"}, {"fold": ["g","m","k","n","h"], "as": ["key","e"]}, {"lookup": "key", "from": {"data": {"name": "kx"}, "key": "key", "fields": ["x"]}}],
   "mark": {"type": "line", "color": "#c20000", "strokeWidth": 1.5, "interpolate": "monotone", "clip": true},
   "encoding": {"x": {"field": "x", "type": "quantitative"}, "y": {"field": "e", "type": "quantitative"}, "detail": {"field": "b"}}},
  {"data": {"values": [{"kx": 1}]}, "mark": {"type": "rule", "color": "black", "strokeWidth": 2},
   "encoding": {"x": {"field": "kx", "type": "quantitative"}}},
  {"data": {"name": "arrows"}, "transform": [{"filter": "datum.p === 'B'"}],
   "mark": {"type": "line", "color": "black", "strokeWidth": 2},
   "encoding": {"x": {"field": "x", "type": "quantitative"}, "y": {"field": "e", "type": "quantitative"}, "detail": {"field": "a"}}},
  {"data": {"name": "boxes"}, "transform": [{"filter": "datum.p === 'B'"}],
   "mark": {"type": "rect", "fill": "white", "stroke": "black", "strokeWidth": 1.5},
   "encoding": {"x": {"field": "x1", "type": "quantitative"}, "x2": {"field": "x2"}, "y": {"field": "e2", "type": "quantitative"}, "y2": {"field": "e1"}}},
  {"data": {"name": "texts"}, "transform": [{"filter": "datum.p === 'B' && datum.s === 'm'"}],
   "mark": {"type": "text", "font": "Liberation Sans", "fontSize": 31, "color": "#1a1a1a", "align": "center", "baseline": "alphabetic"},
   "encoding": {"x": {"field": "x", "type": "quantitative"}, "y": {"field": "e", "type": "quantitative"}, "text": {"field": "t"}}},
  {"data": {"name": "texts"}, "transform": [{"filter": "datum.p === 'B' && datum.s === 's'"}],
   "mark": {"type": "text", "font": "Liberation Sans", "fontSize": 21, "color": "#1a1a1a", "align": "center", "baseline": "alphabetic"},
   "encoding": {"x": {"field": "x", "type": "quantitative"}, "y": {"field": "e", "type": "quantitative"}, "text": {"field": "t"}}}
 ]},
{"width": 186, "height": 469, "title": {"text": "C", "offset": 4},
 "layer": [
  {"data": {"name": "fills"}, "transform": [{"filter": "datum.p === 'C'"}],
   "mark": {"type": "area", "color": "#c20000", "interpolate": "monotone", "clip": true},
   "encoding": {
    "x": {"field": "x", "type": "quantitative", "scale": {"domain": [0, 1.65], "nice": false, "zero": false},
          "axis": {"title": null, "values": [0, 1, 1.65], "labelExpr": "datum.value === 0 ? 'Γ' : (datum.value === 1 ? 'K' : 'H')", "ticks": false, "labelPadding": 10, "labelFlush": false, "labelOverlap": false, "labelBound": false, "labelOffset": {"condition": {"test": "datum.value > 1.5", "value": -5}, "value": 2}}},
    "y": {"field": "hi", "type": "quantitative", "scale": {"domain": [-10, 10], "nice": false, "zero": false},
          "axis": {"title": null, "labels": false, "values": [-10,-9,-8,-7,-6,-5,-4,-3,-2,-1,0,1,2,3,4,5,6,7,8,9,10], "tickSize": {"condition": {"test": "datum.value % 5 === 0", "value": -9}, "value": -5}}},
    "y2": {"field": "lo"},
    "detail": {"field": "g"}}},
  {"data": {"name": "gaps"}, "transform": [{"filter": "datum.p === 'C'"}],
   "mark": {"type": "area", "color": "white", "interpolate": "monotone", "clip": true},
   "encoding": {"x": {"field": "x", "type": "quantitative"}, "y": {"field": "hi", "type": "quantitative"}, "y2": {"field": "lo"}, "detail": {"field": "g"}}},
  {"data": {"name": "bands"}, "transform": [{"filter": "datum.p === 'C'"}, {"fold": ["g","m","k","n","h"], "as": ["key","e"]}, {"lookup": "key", "from": {"data": {"name": "kx"}, "key": "key", "fields": ["x"]}}],
   "mark": {"type": "line", "color": "#c20000", "strokeWidth": 1.5, "interpolate": "monotone", "clip": true},
   "encoding": {"x": {"field": "x", "type": "quantitative"}, "y": {"field": "e", "type": "quantitative"}, "detail": {"field": "b"}}},
  {"data": {"values": [{"kx": 1}]}, "mark": {"type": "rule", "color": "black", "strokeWidth": 2},
   "encoding": {"x": {"field": "kx", "type": "quantitative"}}},
  {"data": {"name": "arrows"}, "transform": [{"filter": "datum.p === 'C'"}],
   "mark": {"type": "line", "color": "black", "strokeWidth": 2},
   "encoding": {"x": {"field": "x", "type": "quantitative"}, "y": {"field": "e", "type": "quantitative"}, "detail": {"field": "a"}}},
  {"data": {"name": "boxes"}, "transform": [{"filter": "datum.p === 'C'"}],
   "mark": {"type": "rect", "fill": "white", "stroke": "black", "strokeWidth": 1.5},
   "encoding": {"x": {"field": "x1", "type": "quantitative"}, "x2": {"field": "x2"}, "y": {"field": "e2", "type": "quantitative"}, "y2": {"field": "e1"}}},
  {"data": {"name": "texts"}, "transform": [{"filter": "datum.p === 'C' && datum.s === 'm'"}],
   "mark": {"type": "text", "font": "Liberation Sans", "fontSize": 31, "color": "#1a1a1a", "align": "center", "baseline": "alphabetic"},
   "encoding": {"x": {"field": "x", "type": "quantitative"}, "y": {"field": "e", "type": "quantitative"}, "text": {"field": "t"}}},
  {"data": {"name": "texts"}, "transform": [{"filter": "datum.p === 'C' && datum.s === 's'"}],
   "mark": {"type": "text", "font": "Liberation Sans", "fontSize": 21, "color": "#1a1a1a", "align": "center", "baseline": "alphabetic"},
   "encoding": {"x": {"field": "x", "type": "quantitative"}, "y": {"field": "e", "type": "quantitative"}, "text": {"field": "t"}}}
 ]},
{"width": 186, "height": 469, "title": {"text": "D", "offset": 4},
 "layer": [
  {"data": {"name": "fills"}, "transform": [{"filter": "datum.p === 'D'"}],
   "mark": {"type": "area", "color": "#c20000", "interpolate": "monotone", "clip": true},
   "encoding": {
    "x": {"field": "x", "type": "quantitative", "scale": {"domain": [0, 1.65], "nice": false, "zero": false},
          "axis": {"title": null, "values": [0, 1, 1.65], "labelExpr": "datum.value === 0 ? 'Γ' : (datum.value === 1 ? 'K' : 'H')", "ticks": false, "labelPadding": 10, "labelFlush": false, "labelOverlap": false, "labelBound": false, "labelOffset": {"condition": {"test": "datum.value > 1.5", "value": -5}, "value": 2}}},
    "y": {"field": "hi", "type": "quantitative", "scale": {"domain": [-10, 10], "nice": false, "zero": false},
          "axis": {"title": null, "labels": false, "values": [-10,-9,-8,-7,-6,-5,-4,-3,-2,-1,0,1,2,3,4,5,6,7,8,9,10], "tickSize": {"condition": {"test": "datum.value % 5 === 0", "value": -9}, "value": -5}}},
    "y2": {"field": "lo"},
    "detail": {"field": "g"}}},
  {"data": {"name": "gaps"}, "transform": [{"filter": "datum.p === 'D'"}],
   "mark": {"type": "area", "color": "white", "interpolate": "monotone", "clip": true},
   "encoding": {"x": {"field": "x", "type": "quantitative"}, "y": {"field": "hi", "type": "quantitative"}, "y2": {"field": "lo"}, "detail": {"field": "g"}}},
  {"data": {"name": "bands"}, "transform": [{"filter": "datum.p === 'D'"}, {"fold": ["g","m","k","n","h"], "as": ["key","e"]}, {"lookup": "key", "from": {"data": {"name": "kx"}, "key": "key", "fields": ["x"]}}],
   "mark": {"type": "line", "color": "#c20000", "strokeWidth": 1.5, "interpolate": "monotone", "clip": true},
   "encoding": {"x": {"field": "x", "type": "quantitative"}, "y": {"field": "e", "type": "quantitative"}, "detail": {"field": "b"}}},
  {"data": {"values": [{"kx": 1}]}, "mark": {"type": "rule", "color": "black", "strokeWidth": 2},
   "encoding": {"x": {"field": "kx", "type": "quantitative"}}},
  {"data": {"name": "arrows"}, "transform": [{"filter": "datum.p === 'D'"}],
   "mark": {"type": "line", "color": "black", "strokeWidth": 2},
   "encoding": {"x": {"field": "x", "type": "quantitative"}, "y": {"field": "e", "type": "quantitative"}, "detail": {"field": "a"}}},
  {"data": {"name": "boxes"}, "transform": [{"filter": "datum.p === 'D'"}],
   "mark": {"type": "rect", "fill": "white", "stroke": "black", "strokeWidth": 1.5},
   "encoding": {"x": {"field": "x1", "type": "quantitative"}, "x2": {"field": "x2"}, "y": {"field": "e2", "type": "quantitative"}, "y2": {"field": "e1"}}},
  {"data": {"name": "texts"}, "transform": [{"filter": "datum.p === 'D' && datum.s === 'm'"}],
   "mark": {"type": "text", "font": "Liberation Sans", "fontSize": 31, "color": "#1a1a1a", "align": "center", "baseline": "alphabetic"},
   "encoding": {"x": {"field": "x", "type": "quantitative"}, "y": {"field": "e", "type": "quantitative"}, "text": {"field": "t"}}},
  {"data": {"name": "texts"}, "transform": [{"filter": "datum.p === 'D' && datum.s === 's'"}],
   "mark": {"type": "text", "font": "Liberation Sans", "fontSize": 21, "color": "#1a1a1a", "align": "center", "baseline": "alphabetic"},
   "encoding": {"x": {"field": "x", "type": "quantitative"}, "y": {"field": "e", "type": "quantitative"}, "text": {"field": "t"}}}
 ]}
]
}
